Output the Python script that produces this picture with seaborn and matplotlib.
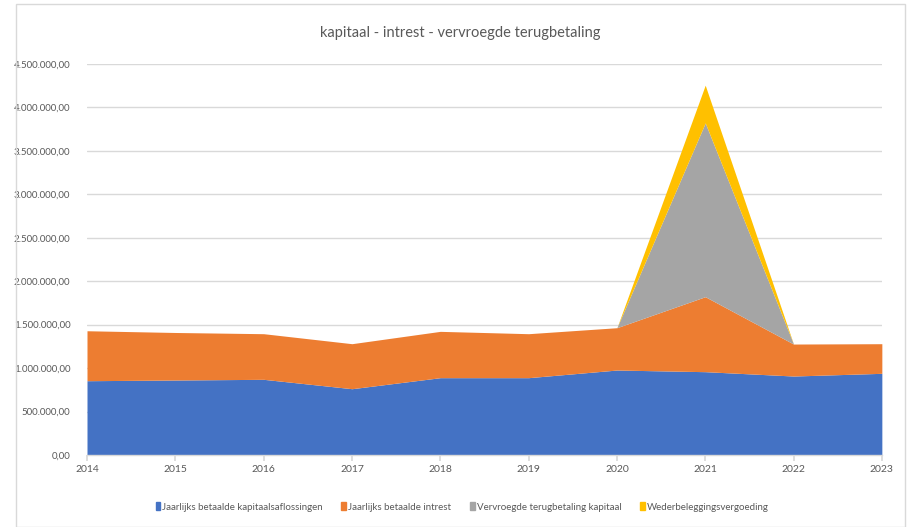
import matplotlib
matplotlib.use("Agg")
import matplotlib.pyplot as plt
import matplotlib.patches as mpatches
from matplotlib.ticker import FuncFormatter, MultipleLocator
import seaborn as sns
import numpy as np

years = [2014, 2015, 2016, 2017, 2018, 2019, 2020, 2021, 2022, 2023]
kapitaal = [855000, 863000, 871000, 763000, 890000, 890000, 978000, 959000, 909000, 940000]
intrest = [575000, 547000, 525000, 518000, 533000, 506000, 487000, 863000, 368000, 341000]
vervroegd = [0, 0, 0, 0, 0, 0, 0, 2000000, 0, 0]
wederbelegging = [0, 0, 0, 0, 0, 0, 0, 434000, 0, 0]
series_names = ["Jaarlijks betaalde kapitaalsaflossingen", "Jaarlijks betaalde intrest",
                "Vervroegde terugbetaling kapitaal", "Wederbeleggingsvergoeding"]
colors = ["#4472C4", "#ED7D31", "#A5A5A5", "#FFC000"]
title = "kapitaal - intrest - vervroegde terugbetaling"

sns.set_theme(style="white")
plt.rcParams['font.family'] = ['Lato', 'DejaVu Sans']

fig = plt.figure(figsize=(9.11, 5.27), dpi=100)
ax = fig.add_axes([0.0955, 0.1366, 0.8725, 0.742])

# chart border
fig.patches.append(mpatches.Rectangle((16/911, 0.0), (905-16)/911, 1 - 4/527,
                                      transform=fig.transFigure, fill=False,
                                      edgecolor="#d9d9d9", linewidth=1))

ax.stackplot(years, kapitaal, intrest, vervroegd, wederbelegging,
             colors=colors, labels=series_names, linewidth=0, zorder=2)

ax.set_xlim(2014, 2023)
ax.set_ylim(0, 4500000)
ax.yaxis.set_major_locator(MultipleLocator(500000))
ax.set_xticks(years)

def fmt(v, pos):
    s = f"{v:,.2f}"
    return s.replace(",", "X").replace(".", ",").replace("X", ".")
ax.yaxis.set_major_formatter(FuncFormatter(fmt))

ax.grid(axis="y", color="#d9d9d9", linewidth=1, zorder=0)
ax.set_axisbelow(True)
for s in ["top", "right", "left"]:
    ax.spines[s].set_visible(False)
ax.spines["bottom"].set_color("#d9d9d9")
ax.spines["bottom"].set_linewidth(1)
ax.tick_params(axis="x", bottom=True, length=4, color="#d9d9d9", labelsize=7.5,
               labelcolor="#595959", pad=3)
ax.tick_params(axis="y", left=False, labelsize=7.0, labelcolor="#595959", pad=6)

fig.text(460/911, 1 - 33/527, title, ha="center", va="center",
         fontsize=10.5, color="#595959")

handles = [mpatches.Patch(color=c, label=n) for c, n in zip(colors, series_names)]
fig.legend(handles=handles, loc="center", bbox_to_anchor=(462/911, 1 - 507/527), ncol=4,
           frameon=False, fontsize=7.0, handlelength=0.5, handleheight=0.9,
           handletextpad=0.2, columnspacing=1.9, labelcolor="#595959")

fig.savefig("out.png", dpi=100)
